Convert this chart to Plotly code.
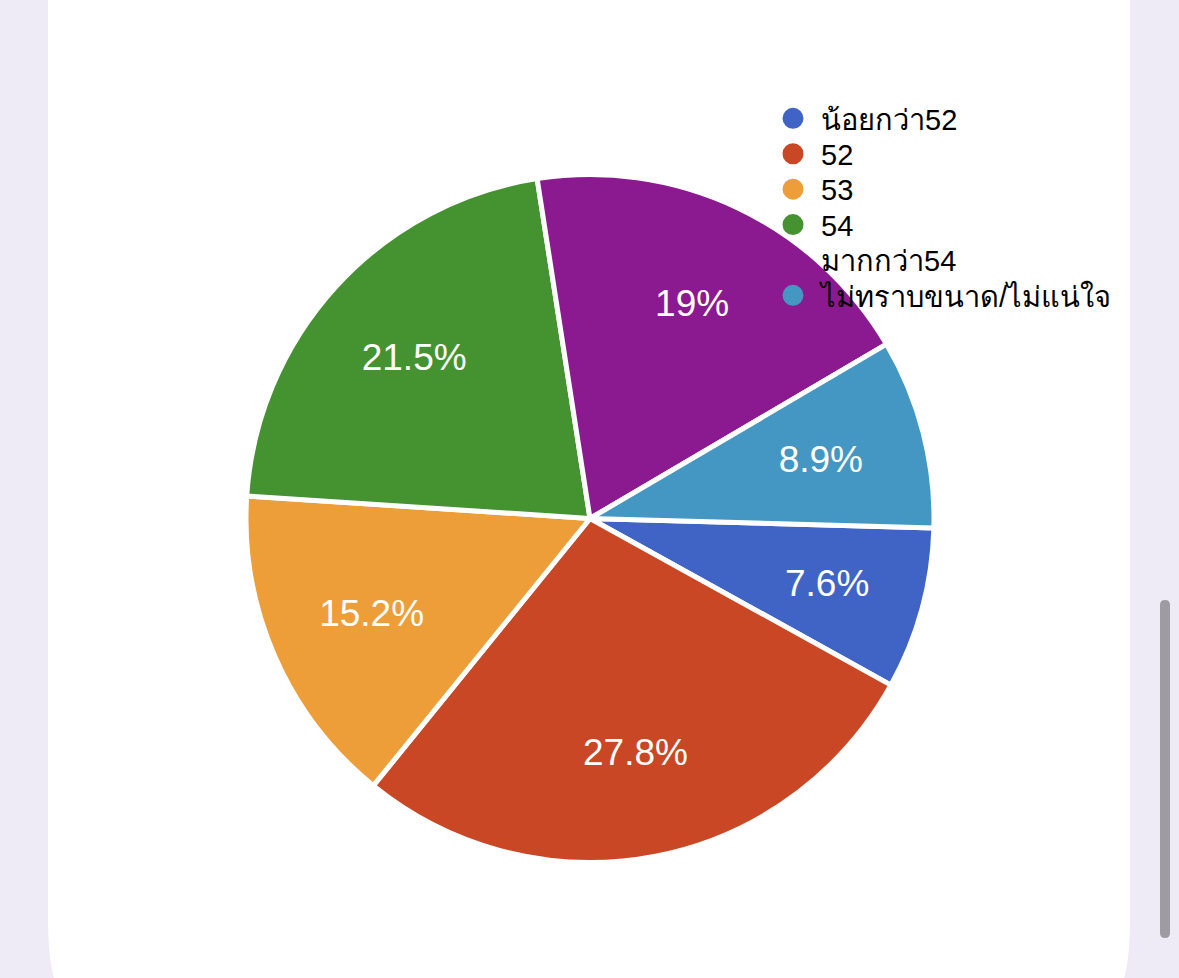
import plotly.graph_objects as go

# ---- data ----
labels = ["น้อยกว่า52", "52", "53", "54", "มากกว่า54", "ไม่ทราบขนาด/ไม่แน่ใจ"]
values = [7.6, 27.8, 15.2, 21.5, 19.0, 8.9]
colors = ["#4064C6", "#C94724", "#EE9E39", "#459330", "#8B1A91", "#4597C3"]

W, H = 1179, 978
FONT = "Liberation Sans, Arial, sans-serif"


def px(x):
    return x / W


def py(y):
    return 1 - y / H


text_labels = [f"{v:g}%" for v in values]

CX, CY, RAD = 590, 518.5, 344      # main pie centre / radius (px)
RT = 304                            # radius of the text-carrying overlay pie

fig = go.Figure()

# coloured pie
fig.add_trace(go.Pie(
    labels=labels, values=values,
    textinfo="none",
    sort=False, direction="clockwise", rotation=91.6,
    marker=dict(colors=colors, line=dict(color="white", width=5)),
    domain=dict(x=[px(CX - RAD), px(CX + RAD)], y=[py(CY + RAD), py(CY - RAD)]),
    showlegend=False,
    hoverinfo="label+percent",
))

# transparent overlay pie that carries the percentage labels
fig.add_trace(go.Pie(
    labels=labels, values=values,
    text=text_labels, textinfo="text",
    textposition="inside", insidetextorientation="horizontal",
    sort=False, direction="clockwise", rotation=91.6,
    hole=0.568,
    marker=dict(colors=["rgba(0,0,0,0)"] * len(values), line=dict(width=0)),
    textfont=dict(color="white", size=37, family=FONT),
    domain=dict(x=[px(CX - RT), px(CX + RT)], y=[py(CY + RT), py(CY - RT)]),
    showlegend=False,
    hoverinfo="skip",
))

# legend entries with circular markers (one legend box per row)
row_y = [117, 152.4, 187.8, 223.2, 258.6, 294]
legend_layout = {}
for i, (lab, col) in enumerate(zip(labels, colors)):
    lname = "legend" if i == 0 else f"legend{i+1}"
    fig.add_trace(go.Scatter(
        x=[None], y=[None], mode="markers", name=lab,
        marker=dict(symbol="circle", size=16, color=col, line=dict(color=col, width=6)),
        showlegend=True, legend=lname,
    ))
    legend_layout[lname] = dict(
        x=px(765), y=py(row_y[i] - 24), xanchor="left", yanchor="top",
        bgcolor="rgba(0,0,0,0)", borderwidth=0, itemwidth=46,
        font=dict(size=29, color="black", family=FONT),
        itemclick=False, itemdoubleclick=False,
    )

# card path (white rounded card)
L, R = 48, 1130
card = (
    f"M {px(L)},{py(-20)} L {px(L)},{py(915)} "
    f"C {px(L)},{py(960)} {px(L+4)},{py(985)} {px(L+20)},{py(1010)} "
    f"L {px(R-20)},{py(1010)} "
    f"C {px(R-4)},{py(985)} {px(R)},{py(960)} {px(R)},{py(915)} "
    f"L {px(R)},{py(-20)} Z"
)
sx0, sx1, sy0, sy1 = 1160, 1170, 600, 938
scroll = (
    f"M {px(sx0)},{py(sy0+5)} Q {px(sx0)},{py(sy0)} {px(1165)},{py(sy0)} "
    f"Q {px(sx1)},{py(sy0)} {px(sx1)},{py(sy0+5)} L {px(sx1)},{py(sy1-5)} "
    f"Q {px(sx1)},{py(sy1)} {px(1165)},{py(sy1)} Q {px(sx0)},{py(sy1)} {px(sx0)},{py(sy1-5)} Z"
)

fig.update_layout(
    width=W, height=H,
    margin=dict(l=0, r=0, t=0, b=0),
    paper_bgcolor="#EEEBF6",
    plot_bgcolor="rgba(0,0,0,0)",
    xaxis=dict(visible=False),
    yaxis=dict(visible=False),
    shapes=[
        dict(type="path", xref="paper", yref="paper", path=card,
             fillcolor="white", line=dict(width=0), layer="below"),
        dict(type="path", xref="paper", yref="paper", path=scroll,
             fillcolor="#9E9BA3", line=dict(width=0), layer="above"),
    ],
    **legend_layout,
)

fig.write_html(
    "out.html",
    config={"displayModeBar": False},
    post_script="document.body.style.margin='0';document.body.style.overflow='hidden';",
)
